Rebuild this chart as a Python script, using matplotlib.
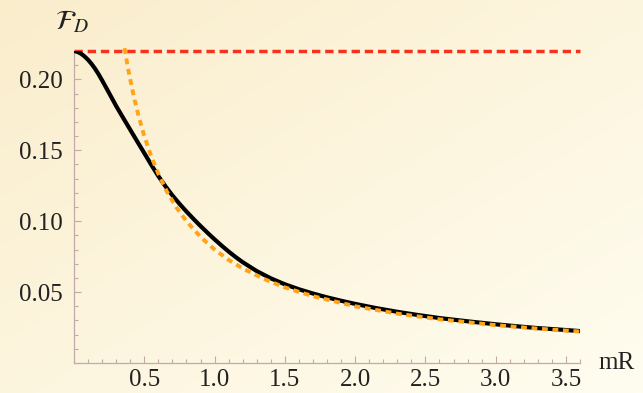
import numpy as np
import matplotlib
matplotlib.use('Agg')
import matplotlib.pyplot as plt
from matplotlib.ticker import MultipleLocator, FixedLocator
from matplotlib.colors import LinearSegmentedColormap

plt.rcParams['mathtext.fontset'] = 'stix'
plt.rcParams['font.family'] = 'Liberation Serif'

# Data.
# full curve F_D(mR)
x_full = [0.0, 0.02, 0.05, 0.075, 0.1, 0.125, 0.15, 0.175, 0.2, 0.25, 0.3, 0.35,
          0.4, 0.45, 0.5, 0.55, 0.6, 0.65, 0.7, 0.75, 0.8, 0.85, 0.9, 0.95, 1.0,
          1.05, 1.1, 1.15, 1.2, 1.3, 1.4, 1.5, 1.6, 1.7, 1.8, 1.9, 2.0, 2.15, 2.3,
          2.45, 2.6, 2.8, 3.0, 3.15, 3.3, 3.45, 3.6]
y_full = [0.2200, 0.2196, 0.2181, 0.2162, 0.2138, 0.2109, 0.2075, 0.2036, 0.1993,
          0.1903, 0.1812, 0.1728, 0.1645, 0.1562, 0.1480, 0.1397, 0.1318, 0.1247,
          0.1182, 0.1123, 0.1068, 0.1016, 0.0966, 0.0918, 0.0872, 0.0828, 0.0786,
          0.0747, 0.0711, 0.0648, 0.0597, 0.0555, 0.0520, 0.0490, 0.0463, 0.0439,
          0.0417, 0.0387, 0.0361, 0.0338, 0.0317, 0.0294, 0.0273, 0.0259, 0.0246,
          0.0236, 0.0225]

# large-mR asymptote (orange)
x_asym = [0.36, 0.38, 0.40, 0.43, 0.46, 0.50, 0.55, 0.60, 0.66, 0.73, 0.80, 0.90,
          1.0, 1.1, 1.2, 1.35, 1.5, 1.7, 2.0, 2.3, 2.6, 3.0, 3.3, 3.6]
y_asym = [0.222, 0.210, 0.200, 0.186, 0.174, 0.160, 0.1455, 0.1335, 0.121, 0.1095,
          0.100, 0.0889, 0.080, 0.0727, 0.0667, 0.0593, 0.0533, 0.0471, 0.040,
          0.0348, 0.0308, 0.0267, 0.0242, 0.0222]

# small-mR limit (red)
x_lim = [0.0, 3.6]
y_lim = [0.22, 0.22]

fig = plt.figure(figsize=(6.43, 3.93), dpi=100)

# background gradient
bg = fig.add_axes([0, 0, 1, 1], zorder=-10)
cmap = LinearSegmentedColormap.from_list('bg', ['#faedcc', '#fffdf0'])
gx, gy = np.meshgrid(np.linspace(0, 1, 200), np.linspace(0, 1, 200))
bg.imshow((gx + gy) / 2, cmap=cmap, aspect='auto', extent=[0, 1, 0, 1], origin='upper')
bg.axis('off')

ax = fig.add_axes([74 / 643, 30 / 393, 506 / 643, 312 / 393])
ax.patch.set_alpha(0)

ax.plot(x_full, y_full, color='black', lw=3.0, zorder=3, solid_capstyle='round',
        solid_joinstyle='round')
ax.plot(x_asym, y_asym, color='#ffa31a', lw=2.8, ls=(0, (1.5, 1.2)), zorder=4, clip_on=False)
ax.plot(x_lim, y_lim, color='#f5321e', lw=2.5, ls=(0, (2.4, 1.4)), zorder=2, clip_on=False)

ax.set_xlim(0, 3.6)
ax.set_ylim(0, 0.22)

axis_col = '#c4a9a9'
for s in ['top', 'right']:
    ax.spines[s].set_visible(False)
for s in ['left', 'bottom']:
    ax.spines[s].set_color(axis_col)
    ax.spines[s].set_linewidth(0.9)

ax.xaxis.set_major_locator(FixedLocator([0.5, 1.0, 1.5, 2.0, 2.5, 3.0, 3.5]))
ax.xaxis.set_minor_locator(MultipleLocator(0.1))
ax.yaxis.set_major_locator(FixedLocator([0.05, 0.10, 0.15, 0.20]))
ax.yaxis.set_minor_locator(MultipleLocator(0.01))
ax.set_xticklabels(['0.5', '1.0', '1.5', '2.0', '2.5', '3.0', '3.5'])
ax.set_yticklabels(['0.05', '0.10', '0.15', '0.20'])

ax.tick_params(which='both', direction='in', color=axis_col, width=0.8, labelsize=18,
               labelcolor='#222222')
ax.tick_params(axis='x', which='major', length=5, pad=4)
ax.tick_params(axis='y', which='major', length=5, pad=8)
ax.tick_params(which='minor', length=3)

ax.text(1.036, 0.0, 'mR', transform=ax.transAxes, fontsize=18, color='#222222',
        ha='left', va='center')
ax.text(-0.038, 1.05, r'$\mathcal{F}_D$', transform=ax.transAxes, fontsize=20,
        color='#222222', ha='left', va='bottom')

fig.savefig('out.png', dpi=100)
